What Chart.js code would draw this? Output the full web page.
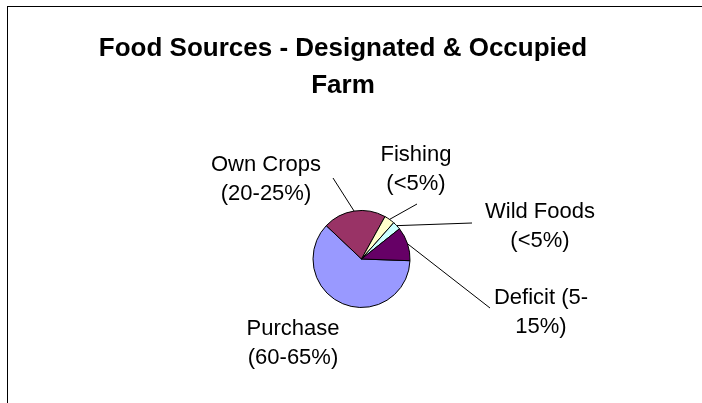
<!DOCTYPE html>
<html>
<head>
<meta charset="utf-8">
<title>Food Sources - Designated &amp; Occupied Farm</title>
<script src="https://cdn.jsdelivr.net/npm/chart.js@4"></script>
<style>
  html, body { margin: 0; padding: 0; background: #ffffff; }
  #wrap { width: 702px; height: 403px; position: relative; }
</style>
</head>
<body>
<div id="wrap"><canvas id="foodChart" width="702" height="403"></canvas></div>
<script>
// slice data, in drawing order (clockwise)
var categories = ["Purchase", "Own Crops", "Fishing", "Wild Foods", "Deficit"];
var shares = [61.5, 21, 3.5, 2.75, 11.25];
var ranges = ["(60-65%)", "(20-25%)", "(<5%)", "(<5%)", "(5-15%)"];
var sliceColors = ["#9999FF", "#993366", "#FFFFCC", "#CCFFFF", "#660066"];

var titleLines = ["Food Sources - Designated & Occupied", "Farm"];

// label text lines and where each label block sits (center x, first baseline y)
var labelLines = [
    ["Purchase", "(60-65%)"],
    ["Own Crops", "(20-25%)"],
    ["Fishing", "(<5%)"],
    ["Wild Foods", "(<5%)"],
    ["Deficit (5-", "15%)"]
];
var labelPos = [
    { x: 293, y: 335, leader: null },
    { x: 266, y: 171, leader: { x: 333, y: 178 } },
    { x: 416, y: 161, leader: { x: 417, y: 204 } },
    { x: 540, y: 218, leader: { x: 472, y: 223 } },
    { x: 541, y: 304, leader: { x: 490, y: 308 } }
];

var FONT = '"Liberation Sans", Arial, sans-serif';

var decorPlugin = {
    id: "decor",
    beforeDraw: function (chart) {
        var c = chart.ctx;
        c.save();
        c.fillStyle = "#ffffff";
        c.fillRect(0, 0, chart.width, chart.height);
        // chart frame (runs off the right and bottom edge)
        c.strokeStyle = "#000000";
        c.lineWidth = 1;
        c.strokeRect(7.5, 6.5, 900, 600);
        // title
        c.fillStyle = "#000000";
        c.font = "bold 26px " + FONT;
        c.textAlign = "center";
        c.textBaseline = "alphabetic";
        c.fillText(titleLines[0], 343, 56);
        c.fillText(titleLines[1], 343, 93);
        c.restore();
    },
    afterDatasetsDraw: function (chart) {
        var c = chart.ctx;
        var arcs = chart.getDatasetMeta(0).data;
        c.save();
        c.strokeStyle = "#000000";
        c.lineWidth = 1;
        c.fillStyle = "#000000";
        c.font = "22px " + FONT;
        c.textAlign = "center";
        c.textBaseline = "alphabetic";
        arcs.forEach(function (arc, i) {
            var p = labelPos[i];
            if (p.leader) {
                var mid = (arc.startAngle + arc.endAngle) / 2;
                var ex = arc.x + Math.cos(mid) * arc.outerRadius;
                var ey = arc.y + Math.sin(mid) * arc.outerRadius;
                c.beginPath();
                c.moveTo(p.leader.x, p.leader.y);
                c.lineTo(ex, ey);
                c.stroke();
            }
            labelLines[i].forEach(function (t, k) {
                c.fillText(t, p.x, p.y + k * 29);
            });
        });
        c.restore();
    }
};

new Chart(document.getElementById("foodChart"), {
    type: "pie",
    data: {
        labels: categories,
        datasets: [{
            data: shares,
            backgroundColor: sliceColors,
            borderColor: "#000000",
            borderWidth: 1
        }]
    },
    options: {
        responsive: false,
        animation: false,
        rotation: 92,
        layout: {
            padding: { left: 312, right: 291, top: 210, bottom: 95 }
        },
        plugins: {
            legend: { display: false },
            title: { display: false },
            tooltip: { enabled: false }
        }
    },
    plugins: [decorPlugin]
});
</script>
</body>
</html>
